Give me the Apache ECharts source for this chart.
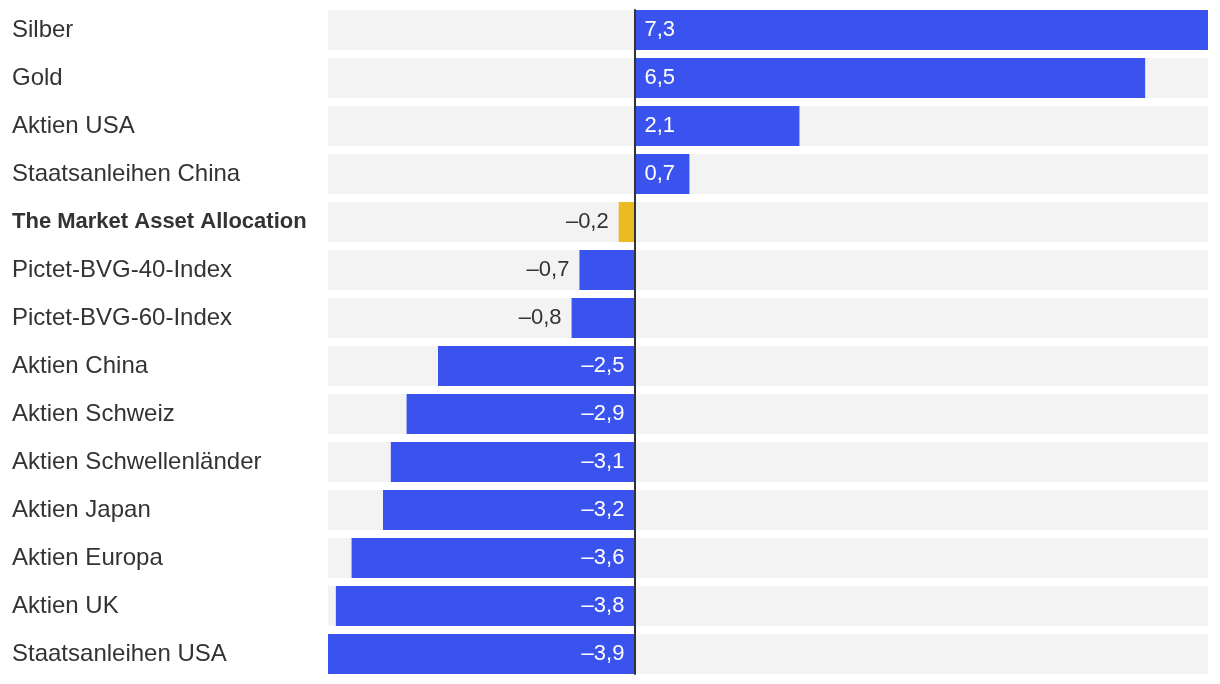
<!DOCTYPE html>
<html>
<head>
<meta charset="utf-8">
<script src="https://cdn.jsdelivr.net/npm/echarts@6/dist/echarts.min.js"></script>
<style>
html,body{margin:0;padding:0;background:#fff;}
#chart{width:1220px;height:684px;}
</style>
</head>
<body>
<div id="chart"></div>
<script>
var categories = ["Silber","Gold","Aktien USA","Staatsanleihen China","The Market Asset Allocation","Pictet-BVG-40-Index","Pictet-BVG-60-Index","Aktien China","Aktien Schweiz","Aktien Schwellenländer","Aktien Japan","Aktien Europa","Aktien UK","Staatsanleihen USA"];
var values = [7.3, 6.5, 2.1, 0.7, -0.2, -0.7, -0.8, -2.5, -2.9, -3.1, -3.2, -3.6, -3.8, -3.9];
var highlight = "The Market Asset Allocation";
var axisMin = -3.9, axisMax = 7.3;

var BLUE = '#3a53ee', YELLOW = '#ebbb22', TEXT = '#333333';
var FONT = '"Liberation Sans", Arial, Helvetica, sans-serif';

function fmt(v){
  var s = Math.abs(v).toFixed(1).replace('.', ',');
  return v < 0 ? '\u2013' + s : s;
}

var data = values.map(function(v, i){
  var isHi = categories[i] === highlight;
  var lab;
  if (v >= 0) lab = {position:'insideLeft', color:'#fff'};
  else if (v > -1.5) lab = {position:'left', color:TEXT};
  else lab = {position:'insideRight', color:'#fff'};
  return {
    value: v,
    itemStyle: {color: isHi ? YELLOW : BLUE},
    label: Object.assign({show:true, distance:10, fontSize:22, fontFamily:FONT, formatter:function(p){return fmt(p.value);}}, lab)
  };
});

var chart = echarts.init(document.getElementById('chart'), null, {renderer:'canvas'});
chart.setOption({
  animation:false,
  grid:[
    {left:328, right:12, top:6, bottom:6, containLabel:false},
    {left:328, right:12, top:10, bottom:10, containLabel:false}
  ],
  xAxis:[
    {type:'value', min:axisMin, max:axisMax, gridIndex:0, show:false},
    {type:'value', min:axisMin, max:axisMax, gridIndex:1, axisLabel:{show:false}, splitLine:{show:false}, axisLine:{show:false}, axisTick:{show:false}}
  ],
  yAxis:[
    {type:'category', data:categories, inverse:true, gridIndex:0,
     axisLine:{show:false}, axisTick:{show:false},
     axisLabel:{align:'left', margin:316, fontSize:24, color:TEXT, fontFamily:FONT,
       formatter:function(v){ return v === highlight ? '{b|' + v + '}' : v; },
       rich:{b:{fontWeight:'bold', fontSize:22, color:TEXT, fontFamily:FONT}}
     }},
    {type:'category', data:categories, inverse:true, gridIndex:1, z:5,
     axisLine:{show:true, onZero:true, lineStyle:{color:'#333', width:2}},
     axisTick:{show:false}, axisLabel:{show:false}, splitLine:{show:false}}
  ],
  series:[{
    type:'bar', xAxisIndex:0, yAxisIndex:0,
    barWidth:40,
    showBackground:true,
    backgroundStyle:{color:'#f3f3f3'},
    data:data
  }]
});
</script>
</body>
</html>
